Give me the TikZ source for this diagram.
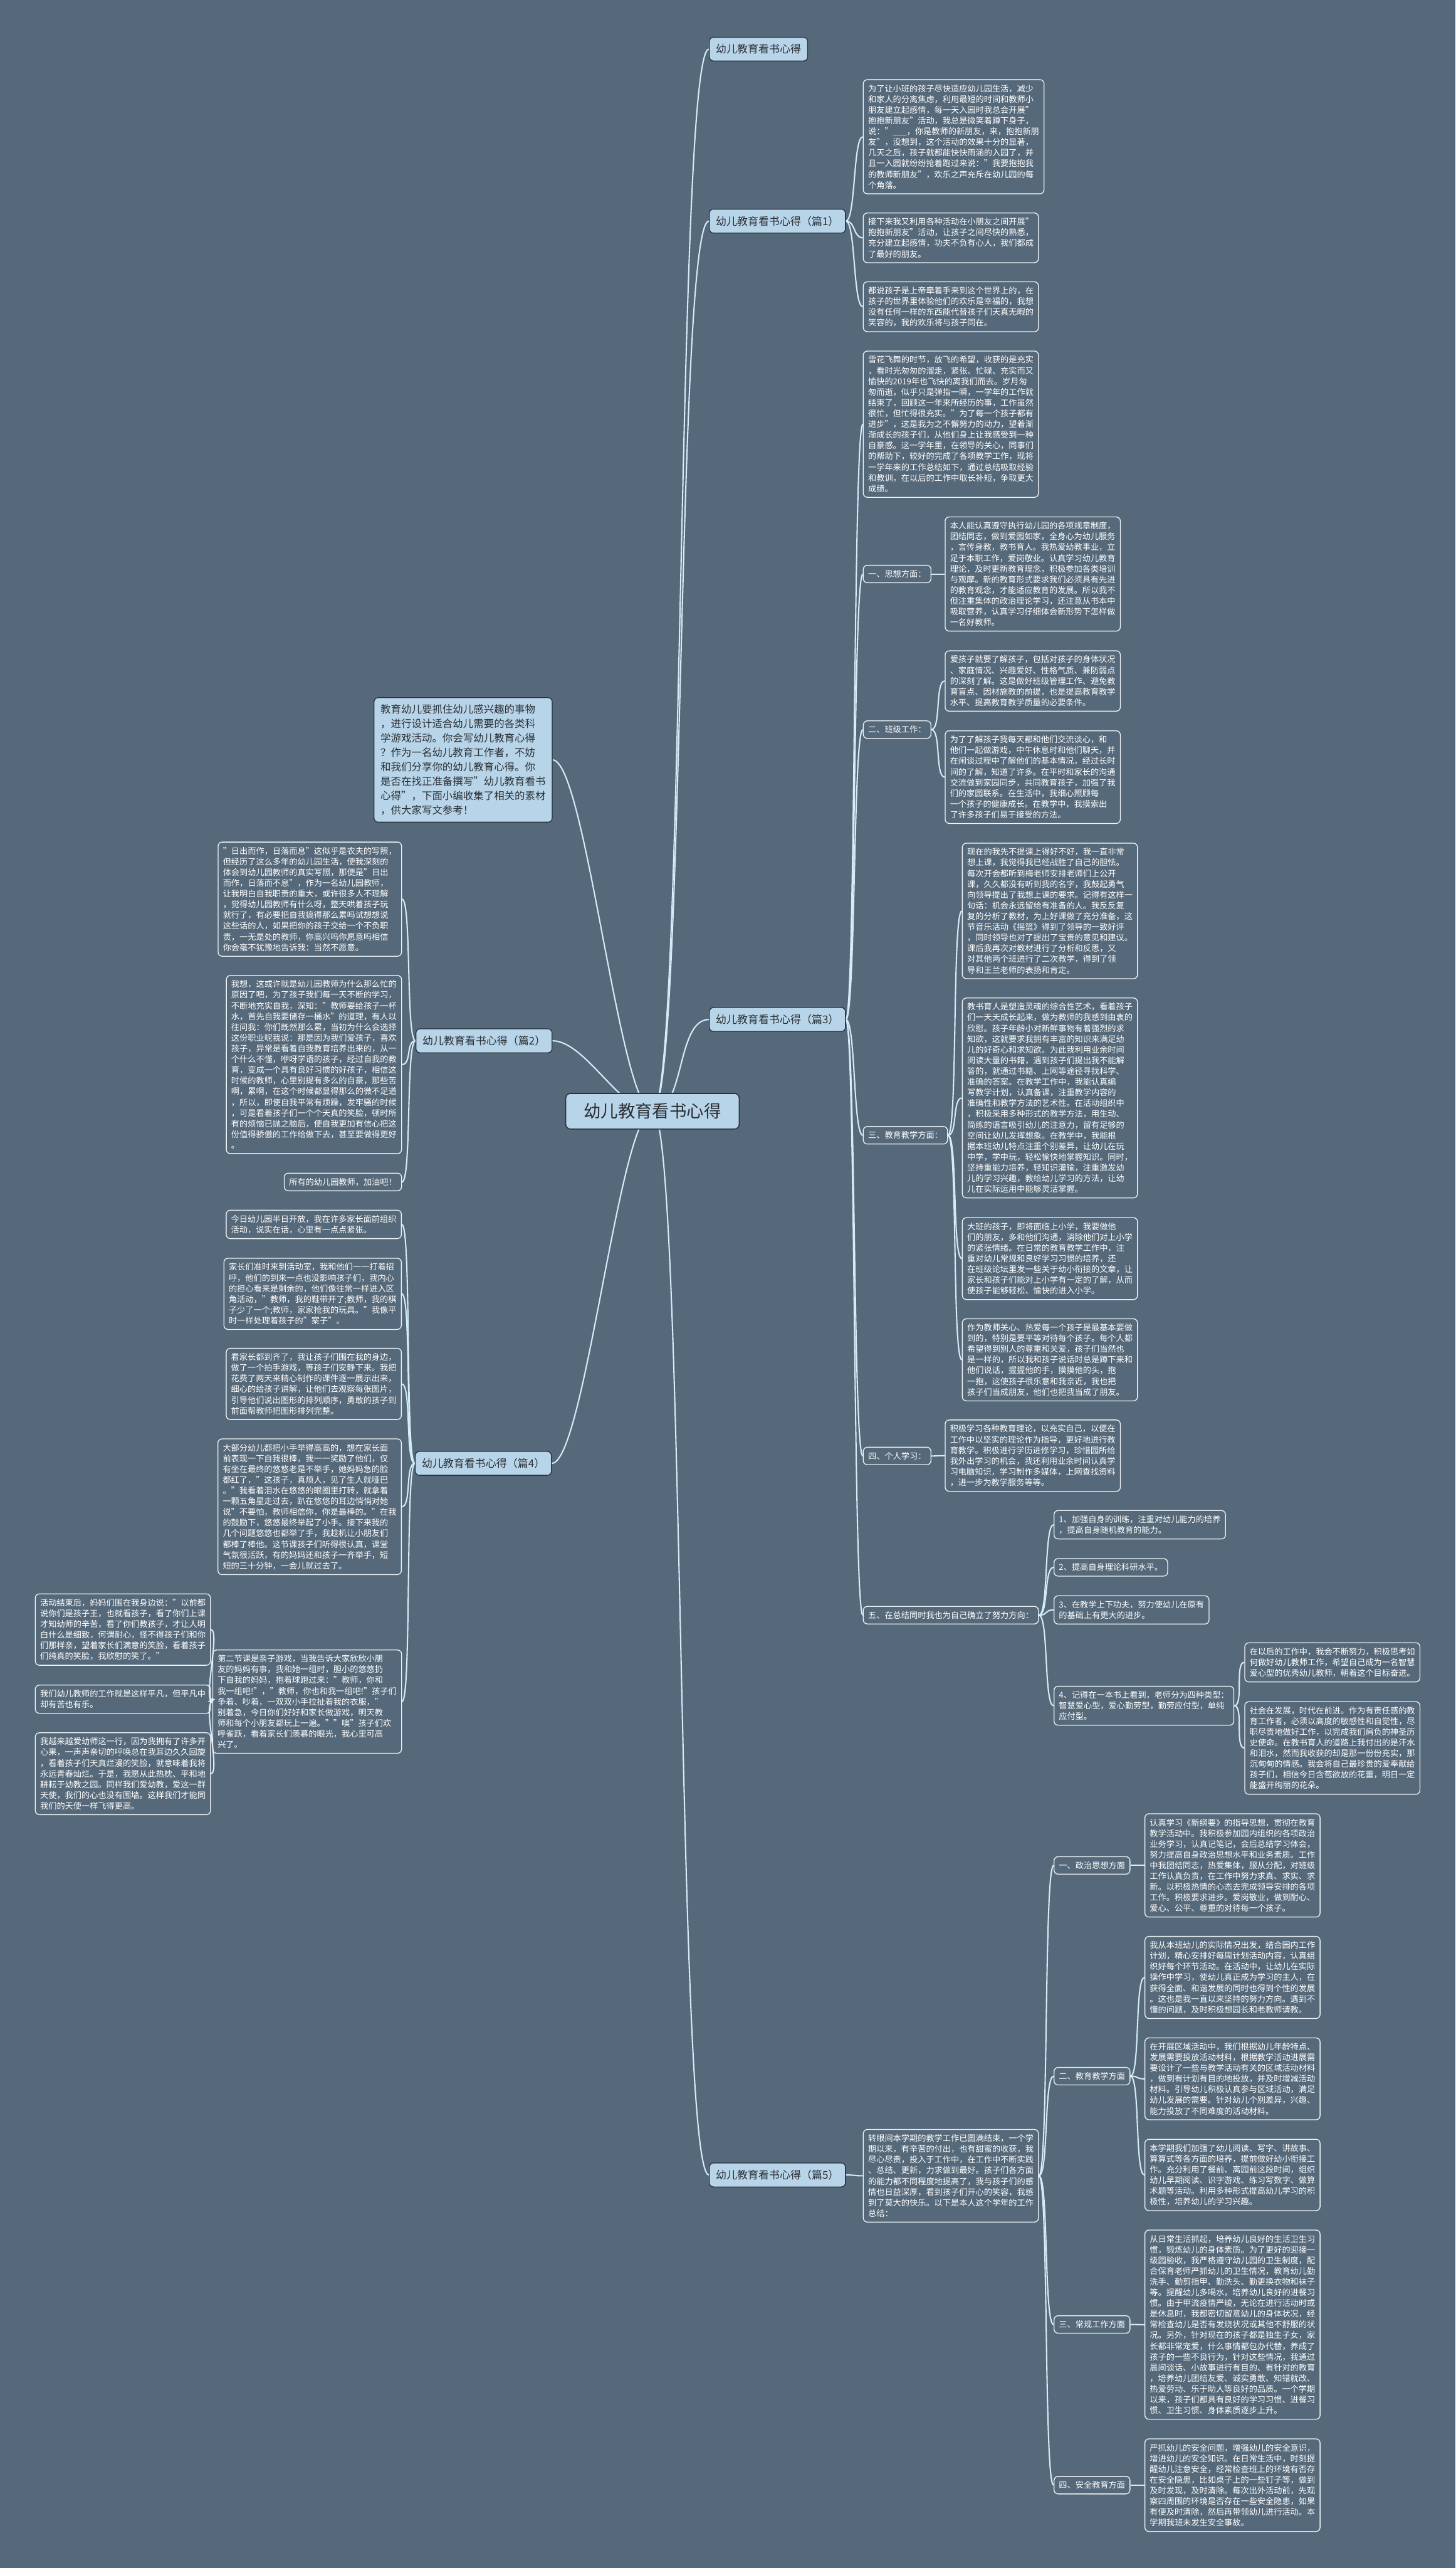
\documentclass[tikz,border=0pt]{standalone}
\usepackage{fontspec}
\setmainfont{Noto Sans CJK SC}
\usepackage{tikz}
\usetikzlibrary{backgrounds}
\definecolor{cbg}{HTML}{56697A}
\definecolor{ctopic}{HTML}{B7D4E9}
\definecolor{cedge}{HTML}{26333D}
\definecolor{cink}{HTML}{2B2F33}
\definecolor{clink}{HTML}{D3ECF8}
\definecolor{cframe}{HTML}{EEF3F6}

\newcommand{\linkR}[2]{\draw[link] (#1.east) .. controls +(6,0) and +(-6,0) .. (#2.west);}
\newcommand{\linkL}[2]{\draw[link] (#1.west) .. controls +(-6,0) and +(6,0) .. (#2.east);}

\begin{document}
\begin{tikzpicture}[
    x=1pt, y=-1pt,
    rootbox/.style={fill=ctopic, draw=cedge, line width=0.6pt, rounded corners=3pt, text=cink, font=\fontsize{10.5}{12}\selectfont, inner xsep=11pt, inner ysep=6pt},
    topic/.style={fill=ctopic, draw=cedge, line width=0.5pt, rounded corners=2.5pt, text=cink, font=\fontsize{6.5}{8}\selectfont, inner xsep=4pt, inner ysep=4.2pt},
    leaf/.style={draw=cframe, line width=0.5pt, rounded corners=2.5pt, text=white, font=\fontsize{5.05}{6.55}\selectfont, align=left, inner sep=3pt},
    leafr/.style={leaf, anchor=west},
    leafl/.style={leaf, anchor=east},
    link/.style={draw=clink, line width=0.8pt},
]

% root
\node[rootbox] (root) at (398.5, 678.5) {幼儿教育看书心得};

% right branch: titles
\node[topic, anchor=west] (t0) at (433, 30) {幼儿教育看书心得};
\node[topic, anchor=west] (p1) at (433, 135) {幼儿教育看书心得（篇1）};
\node[topic, anchor=west] (p3) at (433, 622.5) {幼儿教育看书心得（篇3）};
\node[topic, anchor=west] (p5) at (433, 1328) {幼儿教育看书心得（篇5）};

% left branch: titles
\node[topic, anchor=east, align=left, font=\fontsize{6.3}{8.8}\selectfont] (intro) at (337.5, 464) {教育幼儿要抓住幼儿感兴趣的事物\\，进行设计适合幼儿需要的各类科\\学游戏活动。你会写幼儿教育心得\\？作为一名幼儿教育工作者，不妨\\和我们分享你的幼儿教育心得。你\\是否在找正准备撰写"幼儿教育看书\\心得"，下面小编收集了相关的素材\\，供大家写文参考！};
\node[topic, anchor=east] (p2) at (337.4, 635.5) {幼儿教育看书心得（篇2）};
\node[topic, anchor=east] (p4) at (337, 893.5) {幼儿教育看书心得（篇4）};

% part 1
\node[leafr] (p1a) at (527, 83.5) {为了让小班的孩子尽快适应幼儿园生活，减少\\和家人的分离焦虑，利用最短的时间和教师小\\朋友建立起感情，每一天入园时我总会开展"\\抱抱新朋友"活动，我总是微笑着蹲下身子，\\说："\_\_\_，你是教师的新朋友，来，抱抱新朋\\友"，没想到，这个活动的效果十分的显著，\\几天之后，孩子就都能快快雨涵的入园了，并\\且一入园就纷纷抢着跑过来说："我要抱抱我\\的教师新朋友"，欢乐之声充斥在幼儿园的每\\个角落。};
\node[leafr] (p1b) at (527, 145.2) {接下来我又利用各种活动在小朋友之间开展"\\抱抱新朋友"活动，让孩子之间尽快的熟悉，\\充分建立起感情，功夫不负有心人，我们都成\\了最好的朋友。};
\node[leafr] (p1c) at (527, 187.3) {都说孩子是上帝牵着手来到这个世界上的，在\\孩子的世界里体验他们的欢乐是幸福的，我想\\没有任何一样的东西能代替孩子们天真无暇的\\笑容的，我的欢乐将与孩子同在。};

% part 3
\node[leafr] (p3a) at (527, 259) {雪花飞舞的时节，放飞的希望，收获的是充实\\，看时光匆匆的溜走，紧张、忙碌、充实而又\\愉快的2019年也飞快的离我们而去。岁月匆\\匆而逝，似乎只是弹指一瞬，一学年的工作就\\结束了，回顾这一年来所经历的事，工作虽然\\很忙，但忙得很充实。"为了每一个孩子都有\\进步"，这是我为之不懈努力的动力，望着渐\\渐成长的孩子们，从他们身上让我感受到一种\\自豪感。这一学年里，在领导的关心，同事们\\的帮助下，较好的完成了各项教学工作，现将\\一学年来的工作总结如下，通过总结吸取经验\\和教训，在以后的工作中取长补短，争取更大\\成绩。};
\node[leafr] (s1) at (527, 350.5) {一、思想方面：};
\node[leafr] (s1a) at (577, 350.5) {本人能认真遵守执行幼儿园的各项规章制度，\\团结同志，做到爱园如家，全身心为幼儿服务\\，言传身教，教书育人。我热爱幼教事业，立\\足于本职工作，爱岗敬业。认真学习幼儿教育\\理论，及时更新教育理念，积极参加各类培训\\与观摩。新的教育形式要求我们必须具有先进\\的教育观念，才能适应教育的发展。所以我不\\但注重集体的政治理论学习，还注意从书本中\\吸取营养，认真学习仔细体会新形势下怎样做\\一名好教师。};
\node[leafr] (s2) at (527, 445.5) {二、班级工作：};
\node[leafr] (s2a) at (577, 415.8) {爱孩子就要了解孩子，包括对孩子的身体状况\\、家庭情况、兴趣爱好、性格气质、兼防弱点\\的深刻了解。这是做好班级管理工作、避免教\\育盲点、因材施教的前提，也是提高教育教学\\水平、提高教育教学质量的必要条件。};
\node[leafr] (s2b) at (577, 474.5) {为了了解孩子我每天都和他们交流谈心，和\\他们一起做游戏，中午休息时和他们聊天，并\\在闲谈过程中了解他们的基本情况，经过长时\\间的了解，知道了许多。在平时和家长的沟通\\交流做到家园同步，共同教育孩子，加强了我\\们的家园联系。在生活中，我细心照顾每\\一个孩子的健康成长。在教学中，我摸索出\\了许多孩子们易于接受的方法。};
\node[leafr] (s3) at (527, 693.2) {三、教育教学方面：};
\node[leafr] (s3a) at (587.5, 556.2) {现在的我先不提课上得好不好，我一直非常\\想上课，我觉得我已经战胜了自己的胆怯。\\每次开会都听到梅老师安排老师们上公开\\课，久久都没有听到我的名字，我鼓起勇气\\向领导提出了我想上课的要求。记得有这样一\\句话：机会永远留给有准备的人。我反反复\\复的分析了教材，为上好课做了充分准备，这\\节音乐活动《摇篮》得到了领导的一致好评\\，同时领导也对了提出了宝贵的意见和建议。\\课后我再次对教材进行了分析和反思，又\\对其他两个班进行了二次教学，得到了领\\导和王兰老师的表扬和肯定。};
\node[leafr] (s3b) at (587.5, 670.4) {教书育人是塑造灵魂的综合性艺术，看着孩子\\们一天天成长起来，做为教师的我感到由衷的\\欣慰。孩子年龄小对新鲜事物有着强烈的求\\知欲，这就要求我拥有丰富的知识来满足幼\\儿的好奇心和求知欲。为此我利用业余时间\\阅读大量的书籍，遇到孩子们提出我不能解\\答的，就通过书籍、上网等途径寻找科学、\\准确的答案。在教学工作中，我能认真编\\写教学计划，认真备课，注重教学内容的\\准确性和教学方法的艺术性。在活动组织中\\，积极采用多种形式的教学方法，用生动、\\简练的语言吸引幼儿的注意力，留有足够的\\空间让幼儿发挥想象。在教学中，我能根\\据本班幼儿特点注重个别差异，让幼儿在玩\\中学，学中玩，轻松愉快地掌握知识。同时，\\坚持重能力培养，轻知识灌输，注重激发幼\\儿的学习兴趣，教给幼儿学习的方法，让幼\\儿在实际运用中能够灵活掌握。};
\node[leafr] (s3c) at (587.5, 768.5) {大班的孩子，即将面临上小学，我要做他\\们的朋友，多和他们沟通，消除他们对上小学\\的紧张情绪。在日常的教育教学工作中，注\\重对幼儿常规和良好学习习惯的培养，还\\在班级论坛里发一些关于幼小衔接的文章，让\\家长和孩子们能对上小学有一定的了解，从而\\使孩子能够轻松、愉快的进入小学。};
\node[leafr] (s3d) at (587.5, 830.3) {作为教师关心、热爱每一个孩子是最基本要做\\到的，特别是要平等对待每个孩子。每个人都\\希望得到别人的尊重和关爱，孩子们当然也\\是一样的，所以我和孩子说话时总是蹲下来和\\他们说话，握握他的手，摸摸他的头，抱\\一抱，这使孩子很乐意和我亲近，我也把\\孩子们当成朋友，他们也把我当成了朋友。};
\node[leafr] (s4) at (527, 889) {四、个人学习：};
\node[leafr] (s4a) at (577, 888.8) {积极学习各种教育理论，以充实自己，以便在\\工作中以坚实的理论作为指导，更好地进行教\\育教学。积极进行学历进修学习，珍惜园所给\\我外出学习的机会，我还利用业余时间认真学\\习电脑知识，学习制作多媒体，上网查找资料\\，进一步为教学服务等等。};
\node[leafr] (s5) at (527, 986.2) {五、在总结同时我也为自己确立了努力方向：};
\node[leafr] (s5a) at (643.5, 931) {1、加强自身的训练，注重对幼儿能力的培养\\，提高自身随机教育的能力。};
\node[leafr] (s5b) at (643.5, 957) {2、提高自身理论科研水平。};
\node[leafr] (s5c) at (643.5, 983) {3、在教学上下功夫，努力使幼儿在原有\\的基础上有更大的进步。};
\node[leafr] (s5d) at (643.5, 1041.5) {4、记得在一本书上看到，老师分为四种类型：\\智慧爱心型，爱心勤劳型，勤劳应付型，单纯\\应付型。};
\node[leafr] (s5d1) at (760, 1015) {在以后的工作中，我会不断努力，积极思考如\\何做好幼儿教师工作，希望自己成为一名智慧\\爱心型的优秀幼儿教师，朝着这个目标奋进。};
\node[leafr] (s5d2) at (760, 1067.3) {社会在发展，时代在前进。作为有责任感的教\\育工作者，必须以高度的敏感性和自觉性，尽\\职尽责地做好工作，以完成我们肩负的神圣历\\史使命。在教书育人的道路上我付出的是汗水\\和泪水，然而我收获的却是那一份份充实，那\\沉甸甸的情感。我会将自己最珍贵的爱奉献给\\孩子们，相信今日含苞欲放的花蕾，明日一定\\能盛开绚丽的花朵。};

% part 5
\node[leafr] (p5a) at (527, 1328.5) {转眼间本学期的教学工作已圆满结束，一个学\\期以来，有辛苦的付出，也有甜蜜的收获，我\\尽心尽责，投入于工作中，在工作中不断实践\\、总结、更新，力求做到最好。孩子们各方面\\的能力都不同程度地提高了，我与孩子们的感\\情也日益深厚，看到孩子们开心的笑容，我感\\到了莫大的快乐。以下是本人这个学年的工作\\总结：};
\node[leafr] (q1) at (643.5, 1139) {一、政治思想方面};
\node[leafr] (q1a) at (699, 1139) {认真学习《新纲要》的指导思想，贯彻在教育\\教学活动中。我积极参加园内组织的各项政治\\业务学习，认真记笔记，会后总结学习体会，\\努力提高自身政治思想水平和业务素质。工作\\中我团结同志，热爱集体，服从分配，对班级\\工作认真负责，在工作中努力求真、求实、求\\新。以积极热情的心态去完成领导安排的各项\\工作。积极要求进步。爱岗敬业，做到耐心、\\爱心、公平、尊重的对待每一个孩子。};
\node[leafr] (q2) at (643.5, 1267.7) {二、教育教学方面};
\node[leafr] (q2a) at (699, 1207.4) {我从本班幼儿的实际情况出发，结合园内工作\\计划，精心安排好每周计划活动内容，认真组\\织好每个环节活动。在活动中，让幼儿在实际\\操作中学习，使幼儿真正成为学习的主人，在\\获得全面、和谐发展的同时也得到个性的发展\\。这也是我一直以来坚持的努力方向。遇到不\\懂的问题，及时积极想园长和老教师请教。};
\node[leafr] (q2b) at (699, 1269.3) {在开展区域活动中，我们根据幼儿年龄特点、\\发展需要投放活动材料，根据教学活动进展需\\要设计了一些与教学活动有关的区域活动材料\\，做到有计划有目的地投放，并及时增减活动\\材料。引导幼儿积极认真参与区域活动，满足\\幼儿发展的需要。针对幼儿个别差异，兴趣、\\能力投放了不同难度的活动材料。};
\node[leafr] (q2c) at (699, 1328) {本学期我们加强了幼儿阅读、写字、讲故事、\\算算式等各方面的培养，提前做好幼小衔接工\\作。充分利用了餐前、离园前这段时间，组织\\幼儿早期阅读、识字游戏、练习写数字、做算\\术题等活动。利用多种形式提高幼儿学习的积\\极性，培养幼儿的学习兴趣。};
\node[leafr] (q3) at (643.5, 1419.3) {三、常规工作方面};
\node[leafr] (q3a) at (699, 1419.4) {从日常生活抓起，培养幼儿良好的生活卫生习\\惯，锻炼幼儿的身体素质。为了更好的迎接一\\级园验收，我严格遵守幼儿园的卫生制度，配\\合保育老师严抓幼儿的卫生情况，教育幼儿勤\\洗手、勤剪指甲、勤洗头、勤更换衣物和袜子\\等。提醒幼儿多喝水，培养幼儿良好的进餐习\\惯。由于甲流疫情严峻，无论在进行活动时或\\是休息时，我都密切留意幼儿的身体状况，经\\常检查幼儿是否有发烧状况或其他不舒服的状\\况。另外，针对现在的孩子都是独生子女，家\\长都非常宠爱，什么事情都包办代替，养成了\\孩子的一些不良行为，针对这些情况，我通过\\晨间谈话、小故事进行有目的、有针对的教育\\，培养幼儿团结友爱、诚实勇敢、知错就改、\\热爱劳动、乐于助人等良好的品质。一个学期\\以来，孩子们都具有良好的学习习惯、进餐习\\惯、卫生习惯、身体素质逐步上升。};
\node[leafr] (q4) at (643.5, 1517.4) {四、安全教育方面};
\node[leafr] (q4a) at (699, 1517.4) {严抓幼儿的安全问题，增强幼儿的安全意识，\\增进幼儿的安全知识。在日常生活中，时刻提\\醒幼儿注意安全，经常检查班上的环境有否存\\在安全隐患，比如桌子上的一些钉子等，做到\\及时发现，及时清除。每次出外活动前，先观\\察四周围的环境是否存在一些安全隐患，如果\\有便及时清除，然后再带领幼儿进行活动。本\\学期我班未发生安全事故。};

% part 2
\node[leafl] (p2a) at (245.5, 549) {"日出而作，日落而息"这似乎是农夫的写照，\\但经历了这么多年的幼儿园生活，使我深刻的\\体会到幼儿园教师的真实写照，那便是"日出\\而作，日落而不息"，作为一名幼儿园教师，\\让我明白自我职责的重大，或许很多人不理解\\，觉得幼儿园教师有什么呀，整天哄着孩子玩\\就行了，有必要把自我搞得那么累吗试想想说\\这些话的人，如果把你的孩子交给一个不负职\\责，一无是处的教师，你高兴吗你愿意吗相信\\你会毫不犹豫地告诉我：当然不愿意。};
\node[leafl] (p2b) at (245.5, 650) {我想，这或许就是幼儿园教师为什么那么忙的\\原因了吧，为了孩子我们每一天不断的学习，\\不断地充实自我，深知："教师要给孩子一杯\\水，首先自我要储存一桶水"的道理，有人以\\往问我：你们既然那么累，当初为什么会选择\\这份职业呢我说：那是因为我们爱孩子，喜欢\\孩子，异常是看着自我教育培养出来的，从一\\个什么不懂，咿呀学语的孩子，经过自我的教\\育，变成一个具有良好习惯的好孩子，相信这\\时候的教师，心里别提有多么的自豪，那些苦\\啊，累啊，在这个时候都显得那么的微不足道\\，所以，即使自我平常有烦躁，发牢骚的时候\\，可是看着孩子们一个个天真的笑脸，顿时所\\有的烦恼已抛之脑后，使自我更加有信心把这\\份值得骄傲的工作给做下去，甚至要做得更好\\。};
\node[leafl] (p2c) at (245.5, 721.7) {所有的幼儿园教师，加油吧！};

% part 4
\node[leafl] (p4a) at (245.4, 747.6) {今日幼儿园半日开放，我在许多家长面前组织\\活动，说实在话，心里有一点点紧张。};
\node[leafl] (p4b) at (245.4, 790) {家长们准时来到活动室，我和他们一一打着招\\呼，他们的到来一点也没影响孩子们，我内心\\的担心看来是剩余的，他们像往常一样进入区\\角活动，"教师，我的鞋带开了;教师，我的棋\\子少了一个;教师，家家抢我的玩具。"我像平\\时一样处理着孩子的"案子"。};
\node[leafl] (p4c) at (245.4, 845) {看家长都到齐了，我让孩子们围在我的身边，\\做了一个拍手游戏，等孩子们安静下来。我把\\花费了两天来精心制作的课件逐一展示出来，\\细心的给孩子讲解，让他们去观察每张图片，\\引导他们说出图形的排列顺序，勇敢的孩子到\\前面帮教师把图形排列完整。};
\node[leafl] (p4d) at (245.4, 920) {大部分幼儿都把小手举得高高的，想在家长面\\前表现一下自我很棒，我一一奖励了他们，仅\\有坐在最终的悠悠老是不举手，她妈妈急的脸\\都红了，"这孩子，真烦人，见了生人就哑巴\\。"我看着泪水在悠悠的眼圈里打转，就拿着\\一颗五角星走过去，趴在悠悠的耳边悄悄对她\\说"不要怕，教师相信你，你是最棒的。"在我\\的鼓励下，悠悠最终举起了小手。接下来我的\\几个问题悠悠也都举了手，我趁机让小朋友们\\都棒了棒他。这节课孩子们听得很认真，课堂\\气氛很活跃，有的妈妈还和孩子一齐举手，短\\短的三十分钟，一会儿就过去了。};
\node[leafl] (p4e) at (245.5, 1039) {第二节课是亲子游戏，当我告诉大家欣欣小朋\\友的妈妈有事，我和她一组时，胆小的悠悠扔\\下自我的妈妈，抱着球跑过来："教师，你和\\我一组吧!"，"教师，你也和我一组吧!"孩子们\\争着、吵着，一双双小手拉扯着我的衣服，"\\别着急，今日你们好好和家长做游戏，明天教\\师和每个小朋友都玩上一遍。""噢"孩子们欢\\呼雀跃，看着家长们羡慕的眼光，我心里可高\\兴了。};
\node[leafl] (p4e1) at (128.8, 995) {活动结束后，妈妈们围在我身边说："以前都\\说你们是孩子王，也就看孩子，看了你们上课\\才知幼师的辛苦，看了你们教孩子，才让人明\\白什么是细致，何谓耐心，怪不得孩子们和你\\们那样亲，望着家长们满意的笑脸，看着孩子\\们纯真的笑脸，我欣慰的笑了。"};
\node[leafl] (p4e2) at (128.8, 1037.5) {我们幼儿教师的工作就是这样平凡，但平凡中\\却有苦也有乐。};
\node[leafl] (p4e3) at (128.8, 1083) {我越来越爱幼师这一行，因为我拥有了许多开\\心果，一声声亲切的呼唤总在我耳边久久回旋\\，看着孩子们天真烂漫的笑脸，就意味着我将\\永远青春灿烂。于是，我愿从此热枕、平和地\\耕耘于幼教之园。同样我们爱幼教，爱这一群\\天使，我们的心也没有围墙。这样我们才能同\\我们的天使一样飞得更高。};

\begin{scope}[on background layer]
\fill[cbg] (0,0) rectangle (889,1568);
% root to titles
\foreach \t in {t0,p1,p3,p5}
    \draw[link] (root.center) .. controls +(20,0) and +(-20,0) .. (\t.west);
\foreach \t in {intro,p2,p4}
    \draw[link] (root.center) .. controls +(-20,0) and +(20,0) .. (\t.east);
% part 1
\foreach \c in {p1a,p1b,p1c} { \linkR{p1}{\c} }
% part 3
\foreach \c in {p3a,s1,s2,s3,s4,s5} { \linkR{p3}{\c} }
\linkR{s1}{s1a}
\foreach \c in {s2a,s2b} { \linkR{s2}{\c} }
\foreach \c in {s3a,s3b,s3c,s3d} { \linkR{s3}{\c} }
\linkR{s4}{s4a}
\foreach \c in {s5a,s5b,s5c,s5d} { \linkR{s5}{\c} }
\foreach \c in {s5d1,s5d2} { \linkR{s5d}{\c} }
% part 5
\linkR{p5}{p5a}
\foreach \c in {q1,q2,q3,q4} { \linkR{p5a}{\c} }
\linkR{q1}{q1a}
\foreach \c in {q2a,q2b,q2c} { \linkR{q2}{\c} }
\linkR{q3}{q3a}
\linkR{q4}{q4a}
% part 2 and part 4
\foreach \c in {p2a,p2b,p2c} { \linkL{p2}{\c} }
\foreach \c in {p4a,p4b,p4c,p4d,p4e} { \linkL{p4}{\c} }
\foreach \c in {p4e1,p4e2,p4e3} { \linkL{p4e}{\c} }
\end{scope}

\end{tikzpicture}
\end{document}
